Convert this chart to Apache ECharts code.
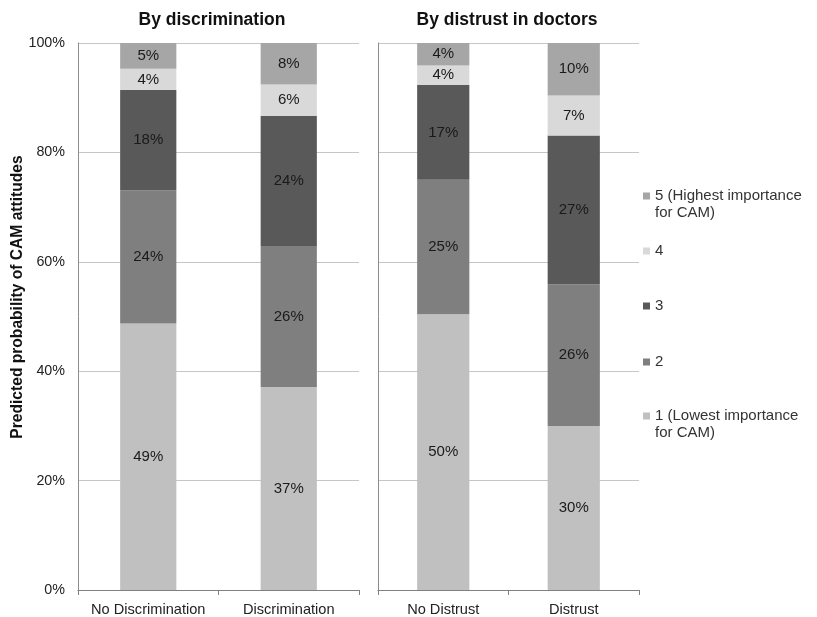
<!DOCTYPE html>
<html>
<head>
<meta charset="utf-8">
<script src="https://cdn.jsdelivr.net/npm/echarts@6/dist/echarts.min.js"></script>
<style>
html,body{margin:0;padding:0;background:#fff;}
#chart{width:817px;height:617px;}
</style>
</head>
<body>
<div id="chart"></div>
<script>
// ---- data ----
const panelTitles = ['By discrimination', 'By distrust in doctors'];
const catsLeft = ['No Discrimination', 'Discrimination'];
const catsRight = ['No Distrust', 'Distrust'];
const levelNames = ['1 (Lowest importance\nfor CAM)', '2', '3', '4', '5 (Highest importance\nfor CAM)'];
// values (%) per level, [first category, second category]
const left1 = [48.7, 37.1];
const left2 = [24.4, 25.8];
const left3 = [18.3, 23.8];
const left4 = [3.9, 5.7];
const left5 = [4.7, 7.6];
const right1 = [50.4, 30.0];
const right2 = [24.6, 25.9];
const right3 = [17.3, 27.2];
const right4 = [3.6, 7.3];
const right5 = [4.1, 9.6];
const yTicks = [0, 20, 40, 60, 80, 100];
const yAxisName = 'Predicted probability of CAM attitudes';

const levelColors = ['#c0c0c0', '#7f7f7f', '#595959', '#d9d9d9', '#a6a6a6'];
const FONT = 'Arial, "Liberation Sans", sans-serif';

const leftData = [left1, left2, left3, left4, left5];
const rightData = [right1, right2, right3, right4, right5];

const series = [];
[leftData, rightData].forEach((panel, gi) => {
  panel.forEach((vals, li) => {
    series.push({
      type: 'bar',
      name: levelNames[li],
      stack: 'p' + gi,
      xAxisIndex: gi,
      yAxisIndex: gi,
      data: vals,
      barCategoryGap: '60%',
      itemStyle: { color: levelColors[li] },
      label: {
        show: true,
        position: 'inside',
        formatter: p => Math.round(p.value) + '%',
        color: '#1a1a1a',
        fontSize: 15,
        fontFamily: FONT
      },
      emphasis: { disabled: true },
      animation: false
    });
  });
});

const gridCommon = { top: 43, bottom: 26.5, containLabel: false };
const axisLineColor = '#8c8c8c';
const gridColor = '#c6c6c6';

function xAxis(cats, gi) {
  return {
    type: 'category',
    gridIndex: gi,
    data: cats,
    axisLine: { show: true, lineStyle: { color: '#808080' } },
    axisTick: { show: true, length: 5, lineStyle: { color: '#808080' } },
    axisLabel: { interval: 0, hideOverlap: false, color: '#222', fontSize: 14.6, fontFamily: FONT, margin: 12 }
  };
}
function yAxis(gi, showLabels) {
  return {
    type: 'value',
    gridIndex: gi,
    min: yTicks[0],
    max: yTicks[yTicks.length - 1],
    interval: yTicks[1] - yTicks[0],
    axisLine: { show: true, lineStyle: { color: axisLineColor } },
    axisTick: { show: false },
    axisLabel: { show: showLabels, formatter: '{value}%', color: '#222', fontSize: 14.3, fontFamily: FONT, margin: 13 },
    splitLine: { show: true, lineStyle: { color: gridColor, width: 1 } }
  };
}

// legend: one component per level to place each entry exactly
const legendOrder = [4, 3, 2, 1, 0];
const legendCenters = [196, 251, 306, 362, 416];
const legends = legendOrder.map((li, k) => {
  const multi = levelNames[li].indexOf('\n') >= 0;
  return {
    data: [levelNames[li]],
    orient: 'vertical',
    left: 643,
    top: multi ? legendCenters[k] - 25.5 : legendCenters[k] - 8.5,
    padding: 0,
    itemWidth: 7,
    itemHeight: 7,
    itemGap: 0,
    icon: 'rect',
    selectedMode: false,
    formatter: multi ? (n => ' \n' + n) : (n => n),
    textStyle: {
      color: '#333',
      fontSize: 15,
      fontFamily: FONT,
      lineHeight: 17
    }
  };
});

const chart = echarts.init(document.getElementById('chart'), null, { renderer: 'canvas' });
chart.setOption({
  backgroundColor: '#ffffff',
  animation: false,
  grid: [
    Object.assign({ left: 78, width: 281 }, gridCommon),
    Object.assign({ left: 378, width: 261 }, gridCommon)
  ],
  xAxis: [xAxis(catsLeft, 0), xAxis(catsRight, 1)],
  yAxis: [yAxis(0, true), yAxis(1, false)],
  legend: legends,
  graphic: [
    { type: 'text', x: 212, y: 20, style: { text: panelTitles[0], font: 'bold 17.5px ' + FONT, fill: '#111', align: 'center', verticalAlign: 'middle' } },
    { type: 'text', x: 507, y: 20, style: { text: panelTitles[1], font: 'bold 17.5px ' + FONT, fill: '#111', align: 'center', verticalAlign: 'middle' } },
    { type: 'text', x: 17.5, y: 297, rotation: Math.PI / 2, style: { text: yAxisName, font: 'bold 15.6px ' + FONT, fill: '#111', align: 'center', verticalAlign: 'middle' } }
  ],
  series: series
});
</script>
</body>
</html>
